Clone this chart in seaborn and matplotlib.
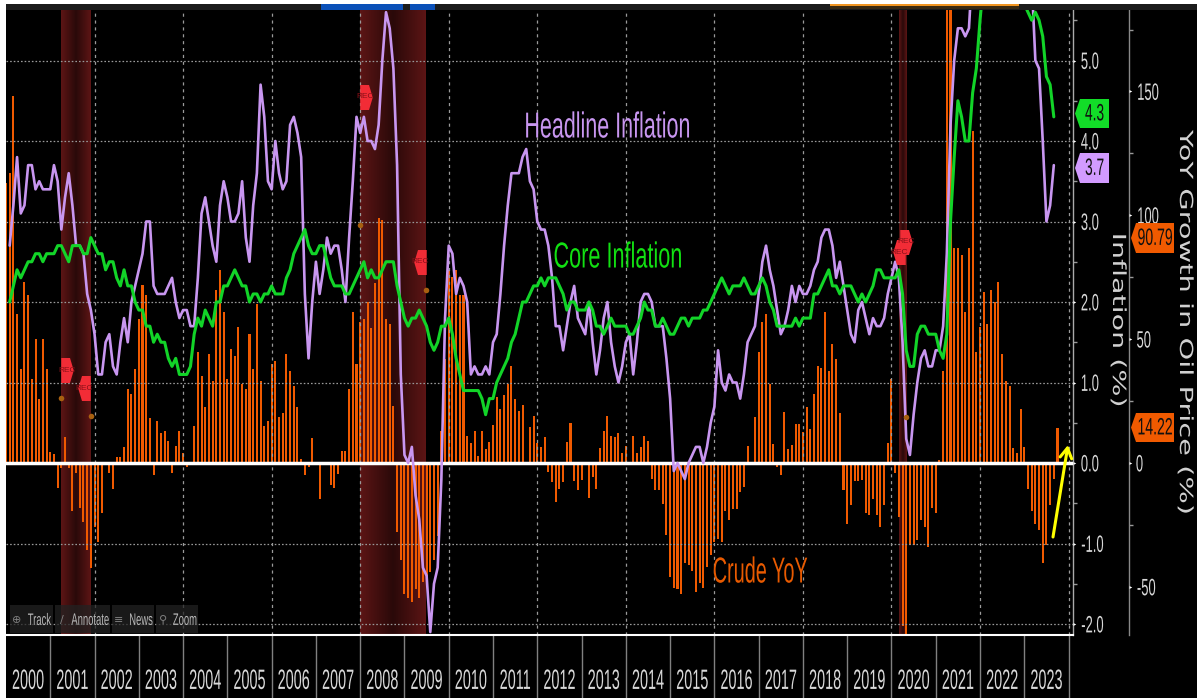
import numpy as np
import pandas as pd
import seaborn as sns
import matplotlib.pyplot as plt
from matplotlib.colors import LinearSegmentedColormap
from matplotlib.patches import Polygon, Rectangle
from matplotlib.patheffects import AbstractPathEffect
from matplotlib.transforms import Affine2D

W, H = 1197, 698

# monthly, Jan 2000 - Aug 2023
headline = [2.7,3.2,3.8,3.1,3.2,3.7,3.7,3.4,3.5,3.4,3.4,3.4,
            3.7,3.5,2.9,3.3,3.6,3.2,2.7,2.7,2.6,2.1,1.9,1.6,
            1.1,1.1,1.5,1.6,1.2,1.1,1.5,1.8,1.5,2.0,2.2,2.4,
            2.6,3.0,3.0,2.2,2.1,2.1,2.1,2.2,2.3,2.0,1.8,1.9,
            1.9,1.7,1.7,2.3,3.1,3.3,3.0,2.7,2.5,3.2,3.5,3.3,
            3.0,3.0,3.1,3.5,2.8,2.5,3.2,3.6,4.7,4.3,3.5,3.4,
            4.0,3.6,3.4,3.5,4.2,4.3,4.1,3.8,2.1,1.3,2.0,2.5,
            2.1,2.4,2.8,2.6,2.7,2.7,2.4,2.0,2.8,3.5,4.3,4.1,
            4.3,4.0,4.0,3.9,4.2,5.0,5.6,5.4,4.9,3.7,1.1,0.1,
            0.0,0.2,-0.4,-0.7,-1.3,-1.4,-2.1,-1.5,-1.3,-0.2,1.8,2.7,
            2.6,2.1,2.3,2.2,2.0,1.1,1.2,1.1,1.1,1.2,1.1,1.5,
            1.6,2.1,2.7,3.2,3.6,3.6,3.6,3.8,3.9,3.5,3.4,3.0,
            2.9,2.9,2.7,2.3,1.7,1.7,1.4,1.7,2.0,2.2,1.8,1.7,
            1.6,2.0,1.5,1.1,1.4,1.8,2.0,1.5,1.2,1.0,1.2,1.5,
            1.6,1.1,1.5,2.0,2.1,2.1,2.0,1.7,1.7,1.7,1.3,0.8,
            -0.1,0.0,-0.1,-0.2,0.0,0.1,0.2,0.2,0.0,0.2,0.5,0.7,
            1.4,1.0,0.9,1.1,1.0,1.0,0.8,1.1,1.5,1.6,1.7,2.1,
            2.5,2.7,2.4,2.2,1.9,1.6,1.7,1.9,2.2,2.0,2.2,2.1,
            2.1,2.2,2.4,2.5,2.8,2.9,2.9,2.7,2.3,2.5,2.2,1.9,
            1.6,1.5,1.9,2.0,1.8,1.6,1.8,1.7,1.7,1.8,2.1,2.3,
            2.5,2.3,1.5,0.3,0.1,0.6,1.0,1.3,1.4,1.2,1.2,1.4,
            1.4,1.7,2.6,4.2,5.0,5.4,5.4,5.3,5.4,6.2,6.8,7.0,
            7.5,7.9,8.5,8.3,8.6,9.1,8.5,8.3,8.2,7.7,7.1,6.5,
            6.4,6.0,5.0,4.9,4.0,3.0,3.2,3.7]
core = [2.0,2.2,2.4,2.3,2.4,2.5,2.5,2.6,2.6,2.5,2.6,2.6,
        2.6,2.7,2.7,2.6,2.5,2.7,2.7,2.7,2.6,2.6,2.8,2.7,
        2.6,2.6,2.4,2.5,2.5,2.3,2.2,2.4,2.2,2.2,2.0,1.9,
        1.9,1.7,1.7,1.5,1.6,1.5,1.5,1.3,1.2,1.3,1.1,1.1,
        1.1,1.2,1.6,1.8,1.7,1.9,1.8,1.7,2.0,2.0,2.2,2.2,
        2.3,2.4,2.3,2.2,2.2,2.0,2.1,2.1,2.0,2.1,2.1,2.2,
        2.1,2.1,2.1,2.3,2.4,2.6,2.7,2.8,2.9,2.7,2.6,2.6,
        2.7,2.7,2.5,2.3,2.2,2.2,2.2,2.1,2.1,2.2,2.3,2.4,
        2.5,2.3,2.4,2.3,2.3,2.4,2.5,2.5,2.5,2.2,2.0,1.8,
        1.7,1.8,1.8,1.9,1.8,1.7,1.5,1.4,1.5,1.7,1.7,1.8,
        1.6,1.3,1.1,0.9,0.9,0.9,0.9,0.9,0.8,0.6,0.8,0.8,
        1.0,1.1,1.2,1.3,1.5,1.6,1.8,2.0,2.0,2.1,2.2,2.2,
        2.3,2.2,2.3,2.3,2.3,2.2,2.1,1.9,2.0,2.0,1.9,1.9,
        1.9,2.0,1.9,1.7,1.7,1.6,1.7,1.8,1.7,1.7,1.7,1.7,
        1.6,1.6,1.7,1.8,2.0,1.9,1.9,1.7,1.7,1.8,1.7,1.6,
        1.6,1.7,1.8,1.8,1.7,1.8,1.8,1.8,1.9,1.9,2.0,2.1,
        2.2,2.3,2.2,2.1,2.2,2.2,2.2,2.3,2.2,2.1,2.1,2.2,
        2.3,2.2,2.0,1.9,1.7,1.7,1.7,1.7,1.7,1.8,1.7,1.8,
        1.8,1.8,2.1,2.1,2.2,2.3,2.4,2.2,2.2,2.1,2.2,2.2,
        2.2,2.1,2.0,2.1,2.0,2.1,2.2,2.4,2.4,2.3,2.3,2.3,
        2.3,2.4,2.1,1.4,1.2,1.2,1.6,1.7,1.7,1.6,1.6,1.6,
        1.4,1.3,1.6,3.0,3.8,4.5,4.3,4.0,4.0,4.6,4.9,5.5,
        6.0,6.4,6.5,6.2,6.0,5.9,5.9,6.3,6.6,6.3,6.0,5.7,
        5.6,5.5,5.6,5.5,5.3,4.8,4.7,4.3]
# monthly, Dec 1999 - Sep 2023
crude = [113,
         117,148,60,38,73,68,34,50,26,50,38,4.5,
         3.6,-10,-2,10.5,-2,-19.5,-4,-18,-24,-35,-42.5,-26,
         -32,-20,0.3,-4,-10.5,2.4,2.4,6.5,30,28,38,58,
         72,68,18,-5,17,12,13,9,-4,7,13,4,
         -1.5,-1,15,45,35,22.6,44,33,70,78,61,34,
         46,43,55,32,30,52,38,64,33,15,17,40,
         41,18.6,20,44,37,31,22.6,1.6,-5,-1.5,10,0.5,
         -14.5,0.5,-1,-9,-10,-4.5,5,5,30,61,40,57,
         58,65,54.5,72.6,99,98,58,56,23,-28,-39,-53,
         -54.5,-56,-51,-54.5,-48,-49,-44,-39,-29.5,13,42,78,
         75,78,68,68,11,8,13,3,13,5.7,8.6,15.4,
         26.6,22,27.5,32,39,26,21,23.4,-1,14.5,19,8,
         6.5,10.5,-3.5,-7.7,-15.7,-10.5,-7.7,8.5,16,-7.3,-11,-7,
         -1,-14,-5.6,-10.5,6,13,19,11,10.6,12,4,7,
         0.5,11,4,6.5,11,9,-6.6,-11,-11,-16.7,-29,-46,
         -50.5,-51,-53,-40.5,-41,-43.5,-52,-48.6,-50.5,-42,-37,-32,
         -30.5,-32,-19.5,-23,-18.6,-18.6,-11.8,-9.5,7,0.5,18.5,44.7,
         57,60,32,7.7,-1.6,-5,20.6,5.7,7.3,15.7,15.7,12.5,
         22.6,13.7,28,39,38.5,61,37,48,42,20,-11,-24.6,
         -17,-7.3,-7.3,-7,-20,-21,-14.5,-21,-26,-17,8,34,
         -4,-22,-66,-70.6,-33,-33,-31,-23,-26,-34,-18,-20,
         1.2,37,188,238,87,87,84,61,87,134,45,55,
         69,56,70,65,73,44,33,31,6,4,22,6.5,
         -10.5,-19.5,-24.6,-27,-40.5,-33,-17,-6.6,14.22]

year_labels = [str(y) for y in range(2000, 2024)]
infl_ticks = [5, 4, 3, 2, 1, 0, -1, -2]
infl_minor = [5.5, 4.5, 3.5, 2.5, 1.5, 0.5, -0.5, -1.5]
oil_ticks = [150, 100, 50, 0, -50]
oil_minor = [175, 125, 75, 25, -25]
recessions = [(2001.25, 2001.91), (2008.0, 2009.48), (2020.17, 2020.34)]
rec_x = [2001.37, 2001.77, 2008.12, 2009.36, 2020.32, 2020.17]
rec_y = [1.15, 0.93, 4.55, 2.50, 2.75, 2.62]
rec_side = ['r', 'l', 'r', 'l', 'r', 'l']
dot_x = [2001.25, 2001.91, 2008.0, 2009.48, 2020.32]
dot_y = [0.81, 0.58, 2.96, 2.15, 0.57]


class Squeeze(AbstractPathEffect):
    # the terminal font is tall and narrow, none installed comes close
    def __init__(self, sx=1.0, sy=1.0):
        super().__init__()
        self.sx, self.sy = sx, sy

    def draw_path(self, renderer, gc, tpath, affine, rgbFace=None):
        box = tpath.get_extents(affine)
        cx, cy = (box.x0 + box.x1) / 2, (box.y0 + box.y1) / 2
        a = affine + Affine2D().translate(-cx, -cy).scale(self.sx, self.sy).translate(cx, cy)
        renderer.draw_path(gc, tpath, a, rgbFace)


def fx(x):
    return x / W


def fy(y):
    return 1 - y / H


def box(fig, x0, y0, x1, y1, color, z=3, alpha=None):
    fig.add_artist(Rectangle((fx(x0), fy(y1)), (x1 - x0) / W, (y1 - y0) / H, transform=fig.transFigure,
                             facecolor=color, edgecolor='none', zorder=z, alpha=alpha))


def tag(fig, x0, x1, y0, y1, color, label, sx):
    ym = (y0 + y1) / 2
    pts = [(x0 + 5, y0), (x1, y0), (x1, y1), (x0 + 5, y1), (x0, ym)]
    fig.add_artist(Polygon([(fx(a), fy(b)) for a, b in pts], closed=True, transform=fig.transFigure,
                           facecolor=color, edgecolor='none', zorder=4))
    t = fig.text(fx((x0 + 5 + x1) / 2), fy(ym), label, ha='center', va='center', fontsize=11, color='#101010', zorder=5)
    t.set_path_effects([Squeeze(sx, 1.55)])


sns.set_theme(style='ticks')
plt.rcParams['font.family'] = ['Liberation Sans', 'DejaVu Sans']
plt.rcParams['axes.unicode_minus'] = False

periods = pd.period_range('2000-01', periods=len(headline), freq='M')
infl = pd.DataFrame({'date': periods.year + periods.month / 12, 'headline': headline, 'core': core})
oil_periods = pd.period_range('1999-12', periods=len(crude), freq='M')
oil = pd.DataFrame({'date': oil_periods.year + oil_periods.month / 12, 'crude': crude})

fig = plt.figure(figsize=(W / 100, H / 100), dpi=100, facecolor='white')
box(fig, 6, 4, W, H, 'black', z=-1)
box(fig, 6, 4, W, 10, '#1b1b1b', z=3)
box(fig, 321, 4, 403, 10, '#0a50b8')
box(fig, 410, 4, 435, 10, '#0a50b8')
box(fig, 830, 4, 1019, 6.5, '#f09420')
box(fig, 830, 6.5, 1019, 9, '#3a2a12')

ax = fig.add_axes([6 / W, 1 - 635 / H, 1067 / W, 625 / H])
ax2 = ax.twinx()
ax.set_zorder(ax2.get_zorder() + 1)
ax.patch.set_visible(False)
ax2.patch.set_visible(True)
ax2.set_facecolor('black')
# moving the spine resets the ticks, so it comes before they are styled
ax2.spines['right'].set_position(('outward', 56 * 0.72))

# recession shading, brighter at the edges
band_cmap = LinearSegmentedColormap.from_list('band', ['#2a0909', '#5c1515'])
grad = np.abs(np.linspace(-1, 1, 64))[None, :]
for x0, x1 in recessions:
    ax2.imshow(grad, extent=[x0, x1, -80, 200], aspect='auto', cmap=band_cmap, vmin=0, vmax=1, zorder=0)

sns.barplot(data=oil, x='date', y='crude', native_scale=True, width=0.55, color='#f05a00', saturation=1,
            linewidth=0, ax=ax2, zorder=2)

grid_c = '#9a9a9a'
for v in infl_ticks:
    if v != 0:
        ax.axhline(v, color=grid_c, lw=0.9, ls=(0, (1.3, 1.6)), zorder=1)
for yr in range(2002, 2025, 2):
    ax.axvline(yr, color=grid_c, lw=0.9, ls=(0, (2.5, 3)), zorder=1)
ax.axhline(0, color='white', lw=2.5, zorder=3)

sns.lineplot(data=infl, x='date', y='headline', color='#c896f0', lw=1.9, errorbar=None, ax=ax, zorder=4,
             solid_joinstyle='round')
sns.lineplot(data=infl, x='date', y='core', color='#12d428', lw=2.2, errorbar=None, ax=ax, zorder=5,
             solid_joinstyle='round')

# REC event flags
right_flag = [(-0.5, -1), (0.2, -1), (0.5, 0), (0.2, 1), (-0.5, 1)]
left_flag = [(-a, b) for a, b in right_flag]
for x, y, side in zip(rec_x, rec_y, rec_side):
    ax.plot([x], [y], marker=right_flag if side == 'r' else left_flag, ms=18, mfc='#f22c36', mec='none', ls='none', zorder=6)
    ax.text(x, y, 'REC', color='#8a1018', fontsize=6, ha='center', va='center', zorder=7)
ax.plot(dot_x, dot_y, marker='o', ms=4, mfc='#a86010', mec='none', ls='none', zorder=6)

ax.set_xlim(2000.0, 2024.1)
ax.set_ylim(-172 / 80.5, 453 / 80.5)
ax2.set_ylim(-172 / 2.477, 453 / 2.477)
ax.set_xlabel('')
ax.set_ylabel('')
ax2.set_ylabel('')

tick_c = '#d8d8d8'
ax.set_xticks(range(2001, 2025))
ax.set_xticklabels([])
ax.set_xticks([y + 0.5 for y in range(2000, 2024)], year_labels, minor=True)
ax.tick_params(axis='x', which='major', length=45, width=1, color='#808080')
ax.tick_params(axis='x', which='minor', length=0, pad=27, labelsize=13, labelcolor=tick_c)
for lab in ax.get_xticklabels(minor=True):
    lab.set_path_effects([Squeeze(0.8, 1.55)])

# small white arrowheads on each axis line instead of tick dashes
arrow_tick = [(0, -1), (2, 0), (0, 1)]
spine_x = [1.0, 1 + 56 / 1067]
for a, ticks, minor, labels, sp in [(ax, infl_ticks, infl_minor, ['%.1f' % v for v in infl_ticks], spine_x[0]),
                                    (ax2, oil_ticks, oil_minor, [str(v) for v in oil_ticks], spine_x[1])]:
    a.yaxis.tick_right()
    a.set_yticks(ticks, labels)
    a.set_yticks(minor, minor=True)
    a.tick_params(axis='y', which='major', length=0, pad=4.5, labelsize=11, labelcolor=tick_c)
    a.tick_params(axis='y', which='minor', length=3, width=1, color='#999999')
    a.plot([sp] * len(ticks), ticks, transform=a.get_yaxis_transform(), marker=arrow_tick, ms=4, mfc='white',
           mec='none', ls='none', clip_on=False, zorder=6)
    for lab in a.get_yticklabels():
        lab.set_path_effects([Squeeze(0.85, 1.55)])

for s in ['top', 'left']:
    ax.spines[s].set_visible(False)
    ax2.spines[s].set_visible(False)
ax2.spines['bottom'].set_visible(False)
ax.spines['bottom'].set_color('white')
ax.spines['bottom'].set_linewidth(1.5)
ax.spines['right'].set_color('#aaaaaa')
ax.spines['right'].set_linewidth(1)
ax2.spines['right'].set_color('#888888')
ax2.spines['right'].set_linewidth(1)

# series names on the chart
for x, y, s, c, sx in [(607, 128, 'Headline Inflation', '#c896f0', 0.595),
                       (618, 258, 'Core Inflation', '#12e012', 0.6),
                       (760, 573, 'Crude YoY', '#e85a00', 0.55)]:
    t = fig.text(fx(x), fy(y), s, color=c, fontsize=26, ha='center', va='center', zorder=5)
    t.set_path_effects([Squeeze(sx)])

lab1 = fig.text(fx(1118), fy(320), 'Inflation (%)', color='#d0d0d0', fontsize=13, rotation=270,
                ha='center', va='center', family='DejaVu Sans', zorder=5)
lab1.set_path_effects([Squeeze(1.0, 1.58)])
lab2 = fig.text(fx(1185), fy(322), 'YoY Growth in Oil Price (%)', color='#d0d0d0', fontsize=13, rotation=270,
                ha='center', va='center', family='DejaVu Sans', zorder=5)
lab2.set_path_effects([Squeeze(1.0, 1.6)])

tag(fig, 1075, 1109, 99, 128, '#12dd28', '4.3', 0.9)
tag(fig, 1075, 1109, 153, 183, '#d29bff', '3.7', 0.9)
tag(fig, 1131, 1174, 223, 253, '#f05a00', '90.79', 0.92)
tag(fig, 1131, 1174, 413, 442, '#f05a00', '14.22', 0.92)

ax.annotate('', xy=(fx(1068), fy(445)), xytext=(fx(1053), fy(537)), xycoords='figure fraction',
            textcoords='figure fraction', zorder=8,
            arrowprops=dict(arrowstyle='->,head_width=0.35,head_length=0.6', lw=2.2, color='#ffff00', shrinkA=0, shrinkB=0))

# toolbar overlay
for x0, x1, name, icon in [(10, 53, 'Track', '\u2295'), (55, 110, 'Annotate', '\u2215'),
                           (112, 154, 'News', '\u2261'), (156, 198, 'Zoom', '\u26b2')]:
    box(fig, x0, 605, x1, 633, '#222222', z=4, alpha=0.75)
    fig.text(fx(x0 + 7), fy(620), icon, color='#808080', fontsize=8, ha='center', va='center',
             family='DejaVu Sans', zorder=5)
    t = fig.text(fx((x0 + 16 + x1) / 2), fy(620), name, color='#b8b8b8', fontsize=8, ha='center', va='center', zorder=5)
    t.set_path_effects([Squeeze(0.85, 1.5)])

fig.savefig('out.png', dpi=100, facecolor=fig.get_facecolor())
